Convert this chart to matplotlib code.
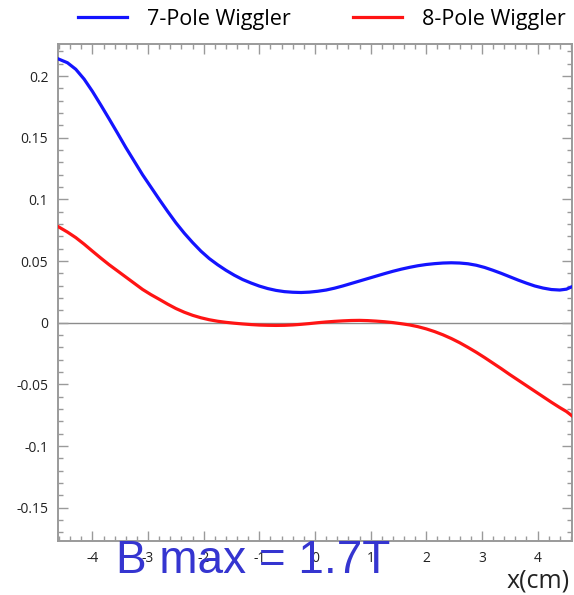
import matplotlib
matplotlib.use("Agg")
import matplotlib.pyplot as plt
from matplotlib.ticker import MultipleLocator, FormatStrFormatter

plt.rcParams.update({
    "font.family": ["Open Sans", "DejaVu Sans"],
    "font.size": 10,
})

# values (x in cm)
x_pts = [-4.62, -4.45, -4.3, -4.15, -4.0, -3.85, -3.7, -3.55, -3.4, -3.25,
         -3.1, -2.95, -2.8, -2.65, -2.5, -2.35, -2.2, -2.05, -1.9, -1.75,
         -1.6, -1.45, -1.3, -1.15, -1.0, -0.85, -0.7, -0.55, -0.4, -0.25,
         -0.1, 0.05, 0.2, 0.35, 0.5, 0.65, 0.8, 0.95, 1.1, 1.25, 1.4, 1.55,
         1.7, 1.85, 2.0, 2.15, 2.3, 2.45, 2.6, 2.75, 2.9, 3.05, 3.2, 3.35,
         3.5, 3.65, 3.8, 3.95, 4.1, 4.25, 4.4, 4.52, 4.62]
pole7 = [0.214, 0.2108, 0.2055, 0.1975, 0.1875, 0.1765, 0.1652, 0.1537,
         0.142, 0.131, 0.120, 0.110, 0.100, 0.0903, 0.081, 0.0726, 0.065,
         0.058, 0.052, 0.047, 0.0425, 0.0385, 0.035, 0.0322, 0.0297, 0.0277,
         0.0262, 0.0252, 0.0247, 0.0245, 0.0248, 0.0255, 0.0265, 0.028,
         0.0298, 0.0318, 0.0338, 0.0358, 0.0378, 0.0398, 0.0417, 0.0434,
         0.0449, 0.0462, 0.0472, 0.0479, 0.0484, 0.0486, 0.0484, 0.0478,
         0.0466, 0.0448, 0.0425, 0.040, 0.0373, 0.0346, 0.0321, 0.0298,
         0.0281, 0.0269, 0.0265, 0.0272, 0.0292]
pole8 = [0.078, 0.0735, 0.069, 0.0637, 0.058, 0.0524, 0.047, 0.042, 0.037,
         0.032, 0.027, 0.0228, 0.019, 0.0151, 0.0115, 0.0085, 0.006, 0.004,
         0.0024, 0.0012, 0.0003, -0.0004, -0.001, -0.0015, -0.0019, -0.0021,
         -0.0022, -0.0021, -0.0018, -0.0013, -0.0007, 0.0, 0.0006, 0.0011,
         0.0015, 0.0018, 0.0019, 0.0017, 0.0013, 0.0008, 0.0001, -0.0008,
         -0.0018, -0.0032, -0.005, -0.0072, -0.0098, -0.0128, -0.0162,
         -0.020, -0.024, -0.0283, -0.0328, -0.0373, -0.042, -0.0465, -0.051,
         -0.0555, -0.060, -0.0645, -0.0688, -0.072, -0.0755]
series_labels = ["7-Pole Wiggler", "8-Pole Wiggler"]

W, H = 574, 595
fig = plt.figure(figsize=(W / 100, H / 100), dpi=100)
ax = fig.add_axes([58 / W, 1 - 541 / H, (572 - 58) / W, (541 - 44) / H])

ax.axhline(0, color="#8c8c8c", lw=1.0, zorder=1)
l7, = ax.plot(x_pts, pole7, color="#1414ff", lw=2.3, zorder=3,
              solid_joinstyle="round")
l8, = ax.plot(x_pts, pole8, color="#ff1414", lw=2.3, zorder=3,
              solid_joinstyle="round")

ax.set_xlim(-4.62, 4.62)
ax.set_ylim(-0.177, 0.226)

ax.xaxis.set_major_locator(MultipleLocator(1))
ax.xaxis.set_minor_locator(MultipleLocator(0.2))
ax.yaxis.set_major_locator(MultipleLocator(0.05))
ax.yaxis.set_minor_locator(MultipleLocator(0.01))
ax.xaxis.set_major_formatter(FormatStrFormatter("%g"))
ax.yaxis.set_major_formatter(FormatStrFormatter("%g"))

grey = "#9a9a9a"
for s in ax.spines.values():
    s.set_color(grey)
    s.set_linewidth(1.4)
ax.tick_params(which="both", direction="in", top=True, right=True,
               color=grey, width=1.0)
ax.tick_params(which="major", length=7, labelsize=10, pad=7,
               labelcolor="#222222")
ax.tick_params(which="minor", length=3.5)

fig.text(570 / W, 1 - 581 / H, "x(cm)", ha="right", va="center",
         fontsize=18, color="#222222")

fig.legend([l7, l8], series_labels, loc="center",
           bbox_to_anchor=(322 / W, 1 - 19 / H), ncol=2, frameon=False,
           fontsize=15.5, handlelength=2.28, handletextpad=0.93,
           columnspacing=2.9)

fig.text(116 / W, 1 - 573 / H, "B max = 1.7T", ha="left", va="baseline",
         fontsize=33, color="#3535d0",
         family=["Liberation Sans", "DejaVu Sans"])

fig.savefig("out.png", dpi=100, facecolor="white")
